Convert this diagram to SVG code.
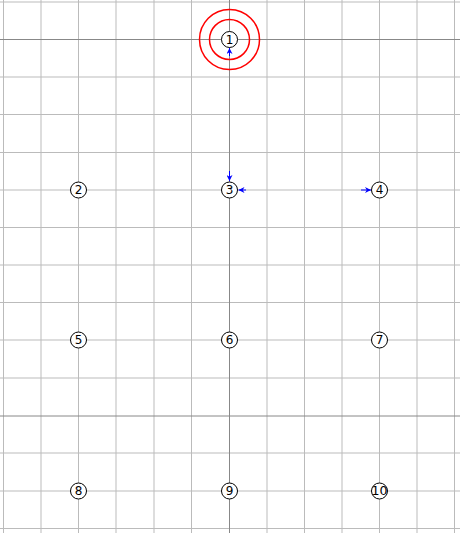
<svg xmlns="http://www.w3.org/2000/svg" width="460" height="533" viewBox="0 0 460 533">
<style>
.g{stroke:#bbbbbb;stroke-width:1;fill:none}
.a{stroke:#888888;stroke-width:1;fill:none}
.n circle{fill:#fff;stroke:#000;stroke-width:1}
.n text{font-family:"DejaVu Sans",sans-serif;font-size:12px;text-anchor:middle;dominant-baseline:central;fill:#000}
.r{fill:none;stroke:#ff0000;stroke-width:1.5}
.e{stroke:#0000ff;stroke-width:1;fill:none;marker-end:url(#ah)}
</style>
<defs>
<marker id="ah" viewBox="0 0 10 10" refX="10" refY="5" markerWidth="6" markerHeight="6" markerUnits="userSpaceOnUse" orient="auto">
<path d="M0,0 L10,5 L0,10 L3,5 Z" fill="#0000ff"/>
</marker>
</defs>
<rect width="460" height="533" fill="#fff"/>
<g id="grid">
<path class="g" d="M3.5,0V533M41,0V533M78.5,0V533M116,0V533M154,0V533M191.5,0V533M267,0V533M304.5,0V533M342,0V533M379.5,0V533M417,0V533M454.5,0V533"/>
<path class="g" d="M0,2H460M0,77H460M0,114.5H460M0,152.5H460M0,190H460M0,227.5H460M0,265H460M0,302.5H460M0,340H460M0,378H460M0,453H460M0,491H460M0,528.5H460"/>
<path class="a" d="M229.5,0V533M0,39.5H460M0,416H460"/>
</g>
<g id="rings">
<circle class="r" cx="229.5" cy="39.5" r="20"/>
<circle class="r" cx="229.5" cy="39.5" r="30"/>
</g>
<g id="connectors">
<line class="e" x1="229.5" y1="56" x2="229.5" y2="48"/>
<line class="e" x1="229.5" y1="171" x2="229.5" y2="181"/>
<line class="e" x1="246" y1="190" x2="238.5" y2="190"/>
<line class="e" x1="361" y1="190" x2="371" y2="190"/>
</g>
<g id="node1" class="n"><circle cx="229.5" cy="39.5" r="8"/><text x="229.5" y="39.5">1</text></g>
<g id="node2" class="n"><circle cx="78.5" cy="190" r="8"/><text x="78.5" y="190">2</text></g>
<g id="node3" class="n"><circle cx="229.5" cy="190" r="8"/><text x="229.5" y="190">3</text></g>
<g id="node4" class="n"><circle cx="379.5" cy="190" r="8"/><text x="379.5" y="190">4</text></g>
<g id="node5" class="n"><circle cx="78.5" cy="340" r="8"/><text x="78.5" y="340">5</text></g>
<g id="node6" class="n"><circle cx="229.5" cy="340" r="8"/><text x="229.5" y="340">6</text></g>
<g id="node7" class="n"><circle cx="379.5" cy="340" r="8"/><text x="379.5" y="340">7</text></g>
<g id="node8" class="n"><circle cx="78.5" cy="491" r="8"/><text x="78.5" y="491">8</text></g>
<g id="node9" class="n"><circle cx="229.5" cy="491" r="8"/><text x="229.5" y="491">9</text></g>
<g id="node10" class="n"><circle cx="379.5" cy="491" r="8"/><text x="379.5" y="491" textLength="16" lengthAdjust="spacingAndGlyphs">10</text></g>
</svg>
